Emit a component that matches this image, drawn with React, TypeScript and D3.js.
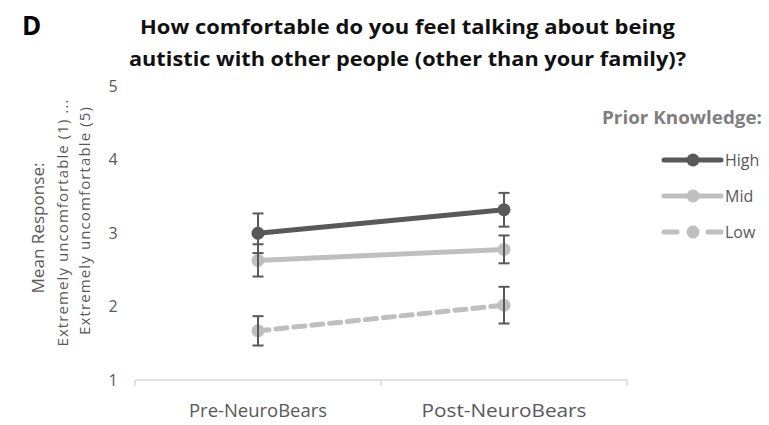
import React from "react";
import * as d3 from "d3";

const categories = ["Pre-NeuroBears", "Post-NeuroBears"];
const yTicks = [1, 2, 3, 4, 5];
const seriesNames = ["High", "Mid", "Low"];
const highMeans = [3.0, 3.32];
const highErr = [0.27, 0.23];
const midMeans = [2.63, 2.78];
const midErr = [0.22, 0.19];
const lowMeans = [1.67, 2.02];
const lowErr = [0.2, 0.25];

const W = 769;
const H = 425;
const plot = { left: 135, right: 627, top: 86.5, bottom: 380 };

const styles: Record<string, { color: string; dash?: string; legendDash?: string }> = {
  High: { color: "#595959" },
  Mid: { color: "#bfbfbf" },
  Low: { color: "#bfbfbf", dash: "11,7", legendDash: "13,31" },
};

const series = [
  { name: "High", means: highMeans, errs: highErr },
  { name: "Mid", means: midMeans, errs: midErr },
  { name: "Low", means: lowMeans, errs: lowErr },
];

const FONT = "'Open Sans', Lato, sans-serif";

export default function App() {
  const x = d3.scaleBand<string>().domain(categories).range([plot.left, plot.right]);
  const cx = (c: string) => (x(c) as number) + x.bandwidth() / 2;
  const y = d3.scaleLinear().domain([1, 5]).range([plot.bottom, plot.top]);
  const line = d3
    .line<{ c: string; v: number }>()
    .x((d) => cx(d.c))
    .y((d) => y(d.v));

  const axisColor = "#d9d9d9";
  const textColor = "#595959";
  const xLabelLen = [138, 165];

  return (
    <svg width={W} height={H} style={{ position: "absolute", left: 0, top: 0, background: "#fff" }}>
      <rect width={W} height={H} fill="#fff" />
      {/* panel letter */}
      <text x={22} y={35} fontFamily={FONT} fontWeight="bold" fontSize={26} fill="#000">
        D
      </text>
      {/* title */}
      <text x={407.5} y={34} textAnchor="middle" fontFamily={FONT} fontWeight="bold" fontSize={20} fill="#111"
        textLength={535} lengthAdjust="spacingAndGlyphs">
        How comfortable do you feel talking about being
      </text>
      <text x={407.5} y={66} textAnchor="middle" fontFamily={FONT} fontWeight="bold" fontSize={20} fill="#111"
        textLength={557} lengthAdjust="spacingAndGlyphs">
        autistic with other people (other than your family)?
      </text>

      {/* y tick labels */}
      {yTicks.map((t) => (
        <text key={t} x={113} y={y(t)} dy="0.35em" textAnchor="middle" fontFamily={FONT} fontSize={16} fill={textColor}>
          {t}
        </text>
      ))}

      {/* y axis title */}
      <g transform="translate(38,228) rotate(-90)">
        <text textAnchor="middle" dy="0.35em" fontFamily={FONT} fontSize={17} fill={textColor}
          textLength={131} lengthAdjust="spacingAndGlyphs">
          Mean Response:
        </text>
      </g>
      <g transform="translate(63,223) rotate(-90)">
        <text textAnchor="middle" dy="0.35em" fontFamily={FONT} fontSize={15} fill={textColor}
          textLength={247} lengthAdjust="spacing">
          Extremely uncomfortable (1) ...
        </text>
      </g>
      <g transform="translate(85,221) rotate(-90)">
        <text textAnchor="middle" dy="0.35em" fontFamily={FONT} fontSize={15} fill={textColor}
          textLength={228} lengthAdjust="spacing">
          Extremely uncomfortable (5)
        </text>
      </g>

      {/* x axis */}
      <line x1={plot.left} x2={plot.right} y1={plot.bottom} y2={plot.bottom} stroke={axisColor} strokeWidth={1.5} />
      {[plot.left, ...categories.map((c) => (x(c) as number) + x.bandwidth())].map((tx, i) => (
        <line key={i} x1={tx} x2={tx} y1={plot.bottom} y2={plot.bottom + 6} stroke={axisColor} strokeWidth={1.5} />
      ))}
      {categories.map((c, i) => (
        <text key={c} x={cx(c)} y={417} textAnchor="middle" fontFamily={FONT} fontSize={17.5} fill={textColor}
          textLength={xLabelLen[i]} lengthAdjust="spacingAndGlyphs">
          {c}
        </text>
      ))}

      {/* lines */}
      {series.map((s) => (
        <path
          key={s.name}
          d={line(categories.map((c, i) => ({ c, v: s.means[i] }))) || ""}
          fill="none"
          stroke={styles[s.name].color}
          strokeWidth={5}
          strokeDasharray={styles[s.name].dash}
          strokeLinecap={styles[s.name].dash ? "round" : "butt"}
        />
      ))}
      {/* markers */}
      {series.map((s) =>
        categories.map((c, i) => (
          <circle key={s.name + c} cx={cx(c)} cy={y(s.means[i])} r={6.5} fill={styles[s.name].color} />
        ))
      )}
      {/* error bars */}
      {series.map((s) =>
        categories.map((c, i) => {
          const xx = cx(c);
          const y1 = y(s.means[i] + s.errs[i]);
          const y2 = y(s.means[i] - s.errs[i]);
          return (
            <g key={"e" + s.name + c} stroke="#595959" strokeWidth={2}>
              <line x1={xx} x2={xx} y1={y1} y2={y2} />
              <line x1={xx - 5.5} x2={xx + 5.5} y1={y1} y2={y1} />
              <line x1={xx - 5.5} x2={xx + 5.5} y1={y2} y2={y2} />
            </g>
          );
        })
      )}

      {/* legend */}
      <text x={762} y={124} textAnchor="end" fontFamily={FONT} fontWeight="bold" fontSize={17} fill="#7f7f7f"
        textLength={160} lengthAdjust="spacingAndGlyphs">
        Prior Knowledge:
      </text>
      {seriesNames.map((n, i) => {
        const ly = 160 + i * 36;
        const st = styles[n];
        return (
          <g key={n}>
            <line
              x1={664}
              x2={721}
              y1={ly}
              y2={ly}
              stroke={st.color}
              strokeWidth={5}
              strokeDasharray={st.legendDash}
              strokeLinecap="round"
            />
            <circle cx={693} cy={ly} r={6.5} fill={st.color} />
            <text x={725} y={ly} dy="0.35em" fontFamily={FONT} fontSize={16} fill={textColor}>
              {n}
            </text>
          </g>
        );
      })}
    </svg>
  );
}
